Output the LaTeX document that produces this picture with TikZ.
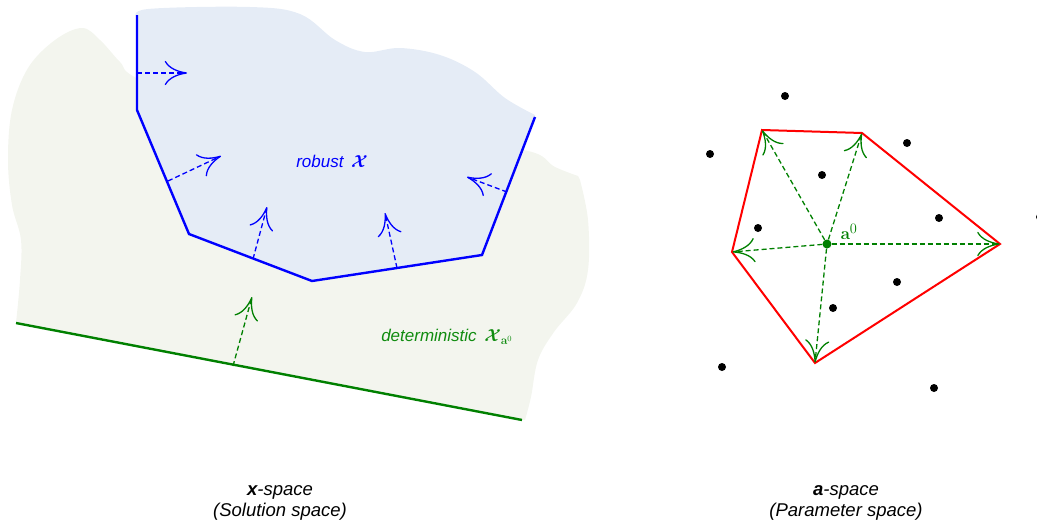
\documentclass[tikz,border=0pt]{standalone}
\usepackage{amsmath,bm}
\usepackage[no-math]{fontspec}
\setmainfont{Liberation Sans}
\usetikzlibrary{arrows.meta}
\definecolor{bfill}{RGB}{229,236,246}
\definecolor{gfill}{RGB}{243,245,238}
\definecolor{dgreen}{RGB}{0,128,0}
\definecolor{lblgreen}{RGB}{16,140,16}
\begin{document}
\begin{tikzpicture}[x=1pt,y=-1pt,
  bnd/.style={blue,line width=2.4pt,line join=miter},
  gbnd/.style={dgreen,line width=2.4pt},
  rbnd/.style={red,line width=2pt,line join=miter},
  tiptype/.style={-{To[scale width=2.6,scale length=5]}},
  barrow/.style={blue,line width=1.3pt,dash pattern=on 5pt off 3pt,tiptype},
  garrow/.style={dgreen,line width=1.3pt,dash pattern=on 5pt off 3pt,tiptype},
  dot/.style={circle,fill=black,minimum size=8pt,inner sep=0pt},
  lbl/.style={font=\fontsize{17}{20}\selectfont\itshape},
  captxt/.style={font=\fontsize{18.5}{21}\selectfont\itshape,align=center}]
\useasboundingbox (0,0) rectangle (1037,525);

% gray region (deterministic feasible set)
\fill[gfill] (16,323) -- plot[smooth,tension=0.6] coordinates {(16,323) (20,280) (21,240) (12,205) (8,160) (12,110) (28,68) (55,40) (82,28) (100,40) (120,62) (140,80) (250,130) (400,140) (523,150) (555,167) (578,176)}
  -- plot[smooth,tension=0.6] coordinates {(580,180) (588,220) (588,270) (577,303) (554,332) (538,360) (531,397) (525,420)} -- cycle;

% robust polygon vertices
\coordinate (r1) at (137,15);
\coordinate (r2) at (137,110);
\coordinate (r3) at (189,234);
\coordinate (r4) at (312,281);
\coordinate (r5) at (482,255);
\coordinate (r6) at (535,117);

% blue region
\fill[bfill] (r6) -- (r5) -- (r4) -- (r3) -- (r2) -- (137,18)
  -- plot[smooth,tension=0.6] coordinates {(137,18) (148,9) (250,7) (300,14) (335,40) (365,52) (400,48) (440,55) (475,72) (505,98) (535,115)} -- cycle;

\draw[bnd] (r1) -- (r2) -- (r3) -- (r4) -- (r5) -- (r6);

% blue normals
\coordinate (b1s) at (137,73);  \coordinate (b1e) at (187,73);
\coordinate (b2s) at (168,181); \coordinate (b2e) at (221,156);
\coordinate (b3s) at (253,259); \coordinate (b3e) at (267,207);
\coordinate (b4s) at (397,268); \coordinate (b4e) at (385,213);
\coordinate (b5s) at (507,192); \coordinate (b5e) at (467,177);
\draw[barrow] (b1s) -- (b1e);
\draw[barrow] (b2s) -- (b2e);
\draw[barrow] (b3s) -- (b3e);
\draw[barrow] (b4s) -- (b4e);
\draw[barrow] (b5s) -- (b5e);

% green line
\coordinate (g1) at (16,323);
\coordinate (g2) at (522,420);
\draw[gbnd] (g1) -- (g2);
\coordinate (gs) at (233,366);
\coordinate (ge) at (252,297);
\draw[garrow] (gs) -- (ge);

% labels
\node[lbl,text=blue] (robust) at (332,161) {robust\, $\bm{\mathcal{X}}$};
\node[lbl,text=lblgreen] (det) at (447,337) {deterministic\, $\bm{\mathcal{X}}_{\mathbf{a}^0}$};

% right panel
\coordinate (v1) at (762,130);
\coordinate (v2) at (862,133);
\coordinate (v3) at (1000,244);
\coordinate (v4) at (815,363);
\coordinate (v5) at (732,252);
\draw[rbnd] (v1) -- (v2) -- (v3) -- (v4) -- (v5) -- cycle;

\node[circle,fill=dgreen,minimum size=9pt,inner sep=0pt] (a0) at (827,244) {};
\node[text=dgreen,font=\fontsize{19}{22}\selectfont] (a0lbl) at (849,232) {$\mathbf{a}^0$};
\foreach \v in {v1,v2,v3,v4,v5}
  \draw[garrow,shorten >=0.5pt] (a0) -- (\v);

\node[dot] (p1) at (785,96) {};
\node[dot] (p2) at (710,154) {};
\node[dot] (p3) at (907,143) {};
\node[dot] (p4) at (822,175) {};
\node[dot] (p5) at (939,218) {};
\node[dot] (p6) at (758,228) {};
\node[dot] (p7) at (897,282) {};
\node[dot] (p8) at (833,308) {};
\node[dot] (p9) at (722,367) {};
\node[dot] (p10) at (934,388) {};
\node[dot] (p11) at (1040,217) {};

% captions
\node[captxt] (capx) at (280,503) {\textbf{x}-space\\(Solution space)};
\node[captxt] (capa) at (846,503) {\textbf{a}-space\\(Parameter space)};
\end{tikzpicture}
\end{document}
